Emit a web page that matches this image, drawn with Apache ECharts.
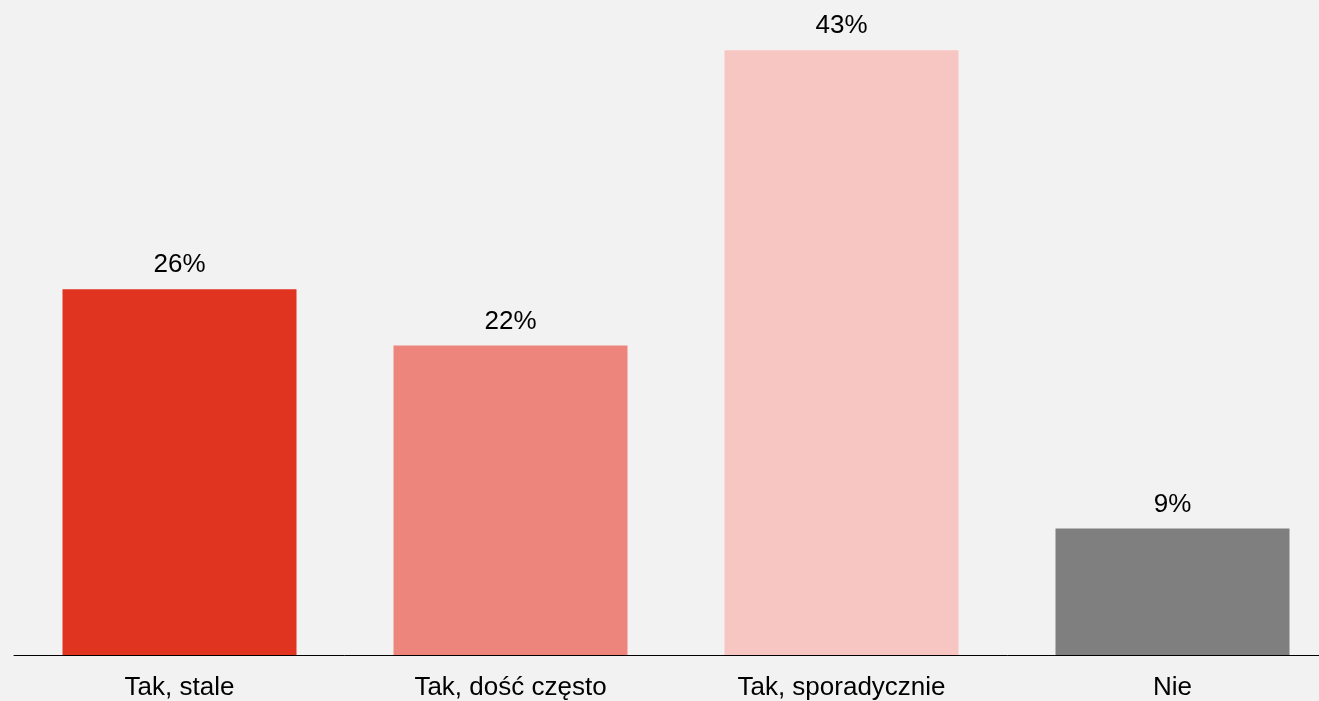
<!DOCTYPE html>
<html>
<head>
<meta charset="utf-8">
<script src="https://cdn.jsdelivr.net/npm/echarts@6/dist/echarts.min.js"></script>
<style>
html,body{margin:0;padding:0;background:#F2F2F2;overflow:hidden;width:1319px;height:701px;}
#chart{width:1338px;height:701px;}
</style>
</head>
<body>
<div id="chart"></div>
<script>
const categories = ['Tak, stale', 'Tak, dość często', 'Tak, sporadycznie', 'Nie'];
const values = [26, 22, 43, 9];
const barColors = ['#E03320', '#EE857C', '#F7C6C2', '#7F7F7F'];

const chart = echarts.init(document.getElementById('chart'));
chart.setOption({
  backgroundColor: '#F2F2F2',
  animation: false,
  grid: { left: 14, right: 0, bottom: 46, top: 22, containLabel: false },
  xAxis: {
    type: 'category',
    data: categories,
    axisLine: { show: true, lineStyle: { color: '#000', width: 1 } },
    axisTick: { show: false },
    axisLabel: { color: '#000', fontSize: 26, fontFamily: 'Liberation Sans, Arial, sans-serif', margin: 20 }
  },
  yAxis: {
    type: 'value', min: 0, max: 45, show: false,
    splitLine: { show: false }
  },
  series: [{
    type: 'bar',
    barWidth: 234,
    data: values.map((v, i) => ({ value: v, itemStyle: { color: barColors[i] } })),
    label: {
      show: true, position: 'top', distance: 11,
      formatter: p => p.value + '%',
      color: '#000', fontSize: 26, fontFamily: 'Liberation Sans, Arial, sans-serif'
    }
  }]
});
</script>
</body>
</html>
